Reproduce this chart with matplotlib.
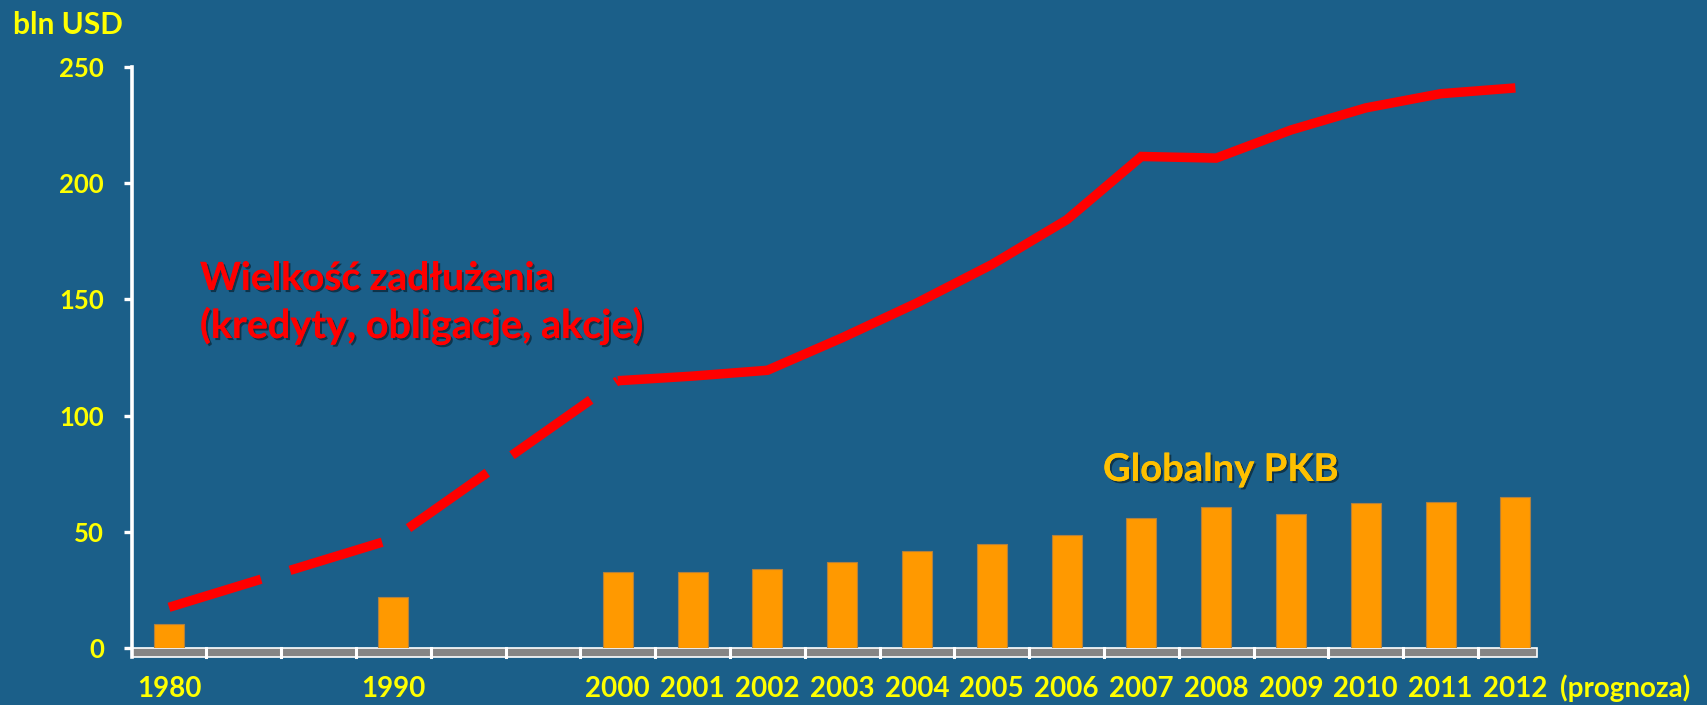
import matplotlib
matplotlib.use("Agg")
import matplotlib.pyplot as plt
import matplotlib.patheffects as pe
from matplotlib.patches import Rectangle
import numpy as np

# ---- data ----
categories = ['1980', '', '', '1990', '', '', '2000', '2001', '2002', '2003', '2004',
              '2005', '2006', '2007', '2008', '2009', '2010', '2011', '2012']
gdp = [10.4, None, None, 22.1, None, None, 32.5, 32.5, 33.8, 37.0, 41.9,
       44.7, 48.6, 55.8, 60.5, 57.7, 62.5, 63.0, 64.8]
debt = [17.5, None, None, 47.0, None, None, 115.0, 117.0, 119.5, 133.5, 148.5,
        165.0, 184.2, 211.5, 210.8, 222.9, 232.4, 238.5, 241.0]
yticks = [0, 50, 100, 150, 200, 250]

BG = '#1B5F89'
YELLOW = '#FFFF00'
ORANGE = '#FF9900'
GOLD = '#FFC000'
RED = '#FF0000'
FONT = ['Lato', 'DejaVu Sans']

plt.rcParams['font.family'] = FONT
plt.rcParams['font.weight'] = 'bold'

W, H = 1707, 705
fig = plt.figure(figsize=(W / 100, H / 100), dpi=100, facecolor=BG)
ax = fig.add_axes([131.6 / W, 1 - 648 / H, (1537 - 131.6) / W, (648 - 67) / H])
ax.set_facecolor(BG)

x = np.arange(len(categories))
xlim_right = (1537 - 131.6) / 74.8 - 0.5
ax.set_xlim(-0.5, xlim_right)
ax.set_ylim(0, 250)

# bars
bx = [i for i, v in enumerate(gdp) if v is not None]
bv = [v for v in gdp if v is not None]
ax.bar(bx, bv, width=0.40, color=ORANGE, edgecolor='#B08040', linewidth=0.8, zorder=3)

# debt line: dashed up to 2000, solid afterwards
lx = [i for i, v in enumerate(debt) if v is not None]
k = categories.index('2000')
dash_x = [i for i in lx if i <= k]
dash_v = [debt[i] for i in dash_x]
sol_x = [i for i in lx if i >= k]
sol_v = [debt[i] for i in sol_x]
ax.plot(dash_x, dash_v, color=RED, lw=6.8, linestyle=(0, (10.2, 3.2)),
        solid_capstyle='butt', dash_capstyle='butt', zorder=4)
ax.plot(sol_x, sol_v, color=RED, lw=6.8, solid_joinstyle='miter',
        solid_capstyle='butt', zorder=4)

# floor band under the x axis
band = 9 / 581 * 250
ax.add_patch(Rectangle((-0.5, -band), xlim_right + 0.5, band, facecolor='#858585',
                       edgecolor='white', linewidth=1.2, clip_on=False, zorder=2))
for i in range(len(categories) - 1):
    ax.plot([i + 0.5, i + 0.5], [-band, 0], color='white', lw=2.2, clip_on=False, zorder=2)

# spines
for s in ['top', 'right', 'bottom']:
    ax.spines[s].set_visible(False)
ax.spines['left'].set_color('white')
ax.spines['left'].set_linewidth(2.6)
ax.spines['left'].set_bounds(-band, 250)
ax.spines['left'].set_zorder(5)

ax.set_yticks(yticks)
ax.set_yticklabels([str(t) for t in yticks])
ax.tick_params(axis='y', colors='white', length=6, width=2.4, direction='out', pad=14,
               labelcolor=YELLOW, labelsize=18.5)
ax.set_xticks(x)
ax.set_xticklabels(categories)
ax.tick_params(axis='x', length=0, pad=20, labelcolor=YELLOW, labelsize=20)
for lab in ax.get_xticklabels() + ax.get_yticklabels():
    lab.set_fontweight('bold')

shadow = [pe.withSimplePatchShadow(offset=(1.5, -1.5), shadow_rgbFace='black', alpha=0.45),
          pe.Normal()]

fig.text(13 / W, 1 - 34 / H, 'bln USD', color=YELLOW, fontsize=21.5, fontweight='bold',
         ha='left', va='baseline')
fig.text(1560 / W, 1 - 697 / H, '(prognoza)', color=YELLOW, fontsize=20, fontweight='bold',
         ha='left', va='baseline')

def px2data(px, py):
    return (px - 131.6) / 74.8 - 0.5, (648 - py) / 581 * 250

tx, ty = px2data(200, 290)
ax.text(tx, ty, 'Wielkość zadłużenia', color=RED, fontsize=28, fontweight='bold',
        ha='left', va='baseline', path_effects=shadow, zorder=6)
tx, ty = px2data(200, 338)
ax.text(tx, ty, '(kredyty, obligacje, akcje)', color=RED, fontsize=28.5, fontweight='bold',
        ha='left', va='baseline', path_effects=shadow, zorder=6)
tx, ty = px2data(1103, 481)
ax.text(tx, ty, 'Globalny PKB', color=GOLD, fontsize=27.5, fontweight='bold',
        ha='left', va='baseline', path_effects=shadow, zorder=6)

fig.savefig('out.png', dpi=100, facecolor=BG)
